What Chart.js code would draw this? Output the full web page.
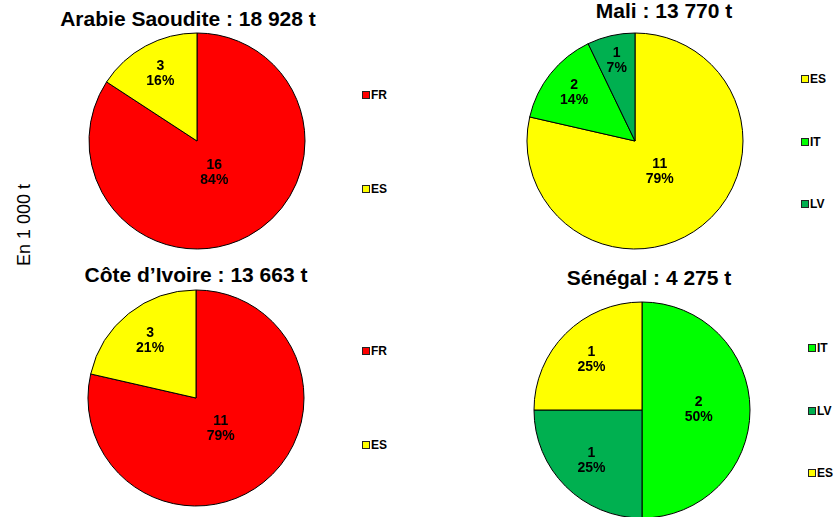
<!DOCTYPE html>
<html>
<head>
<meta charset="utf-8">
<script src="https://cdn.jsdelivr.net/npm/chart.js@4.4.1/dist/chart.umd.min.js"></script>
<style>
    body { margin: 0; background: #fff; overflow: hidden; }
    #wrap { position: relative; width: 836px; height: 517px; overflow: hidden; font-family: Arial, "Liberation Sans", sans-serif; }
    canvas { position: absolute; }
    .title { position: absolute; transform: translate(-50%, -50%); font-weight: bold; font-size: 21px; white-space: nowrap; color: #000; }
    .legend-item { position: absolute; font-weight: bold; font-size: 12px; line-height: 12px; color: #000; white-space: nowrap; }
    .legend-item span { display: inline-block; width: 6px; height: 6px; border: 1px solid #222; margin-right: 1px; vertical-align: 0px; }
    #yLabel { position: absolute; left: 24px; top: 225px; transform: translate(-50%, -50%) rotate(-90deg); font-size: 18px; white-space: nowrap; }
</style>
</head>
<body>
<div id="wrap">
    <div id="yLabel">En 1 000 t</div>
</div>
<script>
// Volumes in 1 000 t by supplier, per destination
const arabieLabels = ['FR', 'ES'];
const arabieValues = [16, 3];

const maliLabels = ['ES', 'IT', 'LV'];
const maliValues = [11, 2, 1];

const coteLabels = ['FR', 'ES'];
const coteValues = [11, 3];

const senegalLabels = ['IT', 'LV', 'ES'];
const senegalValues = [2, 1, 1];

const titles = ['Arabie Saoudite : 18 928 t', 'Mali : 13 770 t', 'Côte d\u2019Ivoire : 13 663 t', 'Sénégal : 4 275 t'];

const colors = { FR: '#FF0000', ES: '#FFFF00', IT: '#00FF00', LV: '#00B050' };

const RADIUS = 108;
const SIZE = 240;

// value + percentage label inside each slice
const sliceLabels = {
    id: 'sliceLabels',
    afterDatasetsDraw(chart) {
        const ctx = chart.ctx;
        const data = chart.data.datasets[0].data;
        const total = data.reduce((a, b) => a + b, 0);
        chart.getDatasetMeta(0).data.forEach((arc, i) => {
            const { x, y, startAngle, endAngle, outerRadius } = arc.getProps(['x', 'y', 'startAngle', 'endAngle', 'outerRadius'], true);
            const mid = (startAngle + endAngle) / 2;
            const frac = data[i] / total;
            const k = 0.8 - 0.55 * frac;
            const px = x + Math.cos(mid) * outerRadius * k;
            const py = y + Math.sin(mid) * outerRadius * k;
            ctx.save();
            ctx.font = 'bold 14px Arial, "Liberation Sans", sans-serif';
            ctx.fillStyle = '#000';
            ctx.textAlign = 'center';
            ctx.textBaseline = 'middle';
            ctx.fillText(String(data[i]), px, py - 7.5);
            ctx.fillText(Math.round(frac * 100) + '%', px, py + 7.5);
            ctx.restore();
        });
    }
};

const panels = [
    { labels: arabieLabels, values: arabieValues, cx: 197, cy: 141, tx: 188, ty: 19, lx: 362, ly: [95, 189] },
    { labels: maliLabels, values: maliValues, cx: 635, cy: 141, tx: 664, ty: 11, lx: 801, ly: [79, 142, 204] },
    { labels: coteLabels, values: coteValues, cx: 196, cy: 398, tx: 196, ty: 275, lx: 362, ly: [351, 445] },
    { labels: senegalLabels, values: senegalValues, cx: 642, cy: 410, tx: 649, ty: 278, lx: 808, ly: [348, 411, 473] }
];

const wrap = document.getElementById('wrap');

panels.forEach((p, idx) => {
    const title = document.createElement('div');
    title.className = 'title';
    title.style.left = p.tx + 'px';
    title.style.top = p.ty + 'px';
    title.textContent = titles[idx];
    wrap.appendChild(title);

    p.labels.forEach((lab, i) => {
        const item = document.createElement('div');
        item.className = 'legend-item';
        item.style.left = p.lx + 'px';
        item.style.top = (p.ly[i] - 6) + 'px';
        item.innerHTML = `<span style="background:${colors[lab]}"></span>${lab}`;
        wrap.appendChild(item);
    });

    const canvas = document.createElement('canvas');
    canvas.width = SIZE;
    canvas.height = SIZE;
    canvas.style.left = (p.cx - SIZE / 2) + 'px';
    canvas.style.top = (p.cy - SIZE / 2) + 'px';
    wrap.appendChild(canvas);

    new Chart(canvas.getContext('2d'), {
        type: 'pie',
        data: {
            labels: p.labels,
            datasets: [{
                data: p.values,
                backgroundColor: p.labels.map(l => colors[l]),
                borderColor: '#000',
                borderWidth: 1,
                radius: RADIUS
            }]
        },
        options: {
            responsive: false,
            devicePixelRatio: 1,
            animation: false,
            layout: { padding: 0 },
            plugins: {
                legend: { display: false },
                tooltip: { enabled: false },
                title: { display: false }
            }
        },
        plugins: [sliceLabels]
    });
});
</script>
</body>
</html>
